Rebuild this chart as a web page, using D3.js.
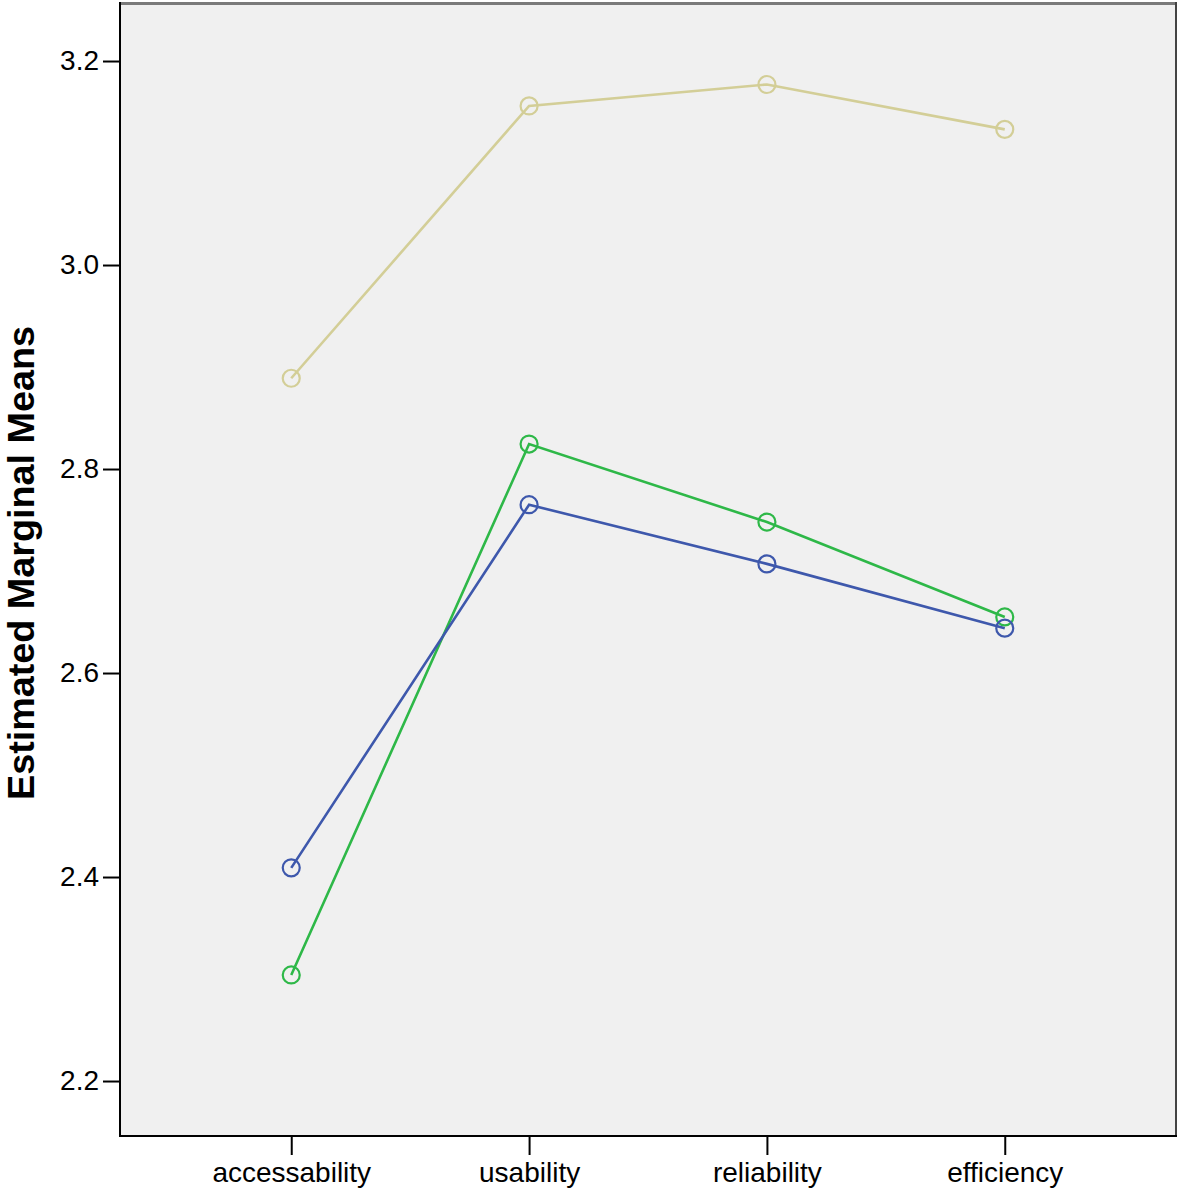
<!DOCTYPE html>
<html><head><meta charset="utf-8">
<script src="https://cdn.jsdelivr.net/npm/d3@7"></script>
<style>body{margin:0;background:#fff}svg{display:block}</style>
</head><body>
<script>
const categories = ["accessability", "usability", "reliability", "efficiency"];
const seriesTan = [2.889, 3.156, 3.177, 3.133];
const seriesGreen = [2.304, 2.8245, 2.748, 2.655];
const seriesBlue = [2.409, 2.765, 2.707, 2.644];
const yTicks = [2.2, 2.4, 2.6, 2.8, 3.0, 3.2];
const yTitle = "Estimated Marginal Means";

const series = [
  {name: "tan", values: seriesTan, color: "#D3CE97"},
  {name: "green", values: seriesGreen, color: "#2EB848"},
  {name: "blue", values: seriesBlue, color: "#3E58AC"}
];

const W = 1181, H = 1190;
const L = 120, R = 1176, T = 4, B = 1136;
const svg = d3.select("body").append("svg").attr("width", W).attr("height", H);

const x = d3.scalePoint().domain(categories).range([L, R]).padding(0.72);
const y = d3.scaleLinear().domain([2.1461, 3.2559]).range([B, T]);

svg.append("rect").attr("x", L).attr("y", T).attr("width", R - L).attr("height", B - T).attr("fill", "#F0F0F0");
svg.append("line").attr("x1", L).attr("x2", R + 1).attr("y1", T - 0.5).attr("y2", T - 0.5).attr("stroke", "#7a7a7a").attr("stroke-width", 3);
svg.append("line").attr("x1", R).attr("x2", R).attr("y1", T - 2).attr("y2", B).attr("stroke", "#444").attr("stroke-width", 2);

const font = "Liberation Sans, Arial, sans-serif";

const yAxis = svg.append("g").attr("transform", `translate(${L},0)`)
  .call(d3.axisLeft(y).tickValues(yTicks).tickFormat(d3.format(".1f")).tickSize(17).tickPadding(4));
yAxis.select(".domain").attr("stroke", "#000").attr("stroke-width", 2).attr("d", `M0,${T - 2}V${B}`);
yAxis.selectAll(".tick line").attr("stroke", "#000").attr("stroke-width", 2);
yAxis.selectAll(".tick text").attr("font-family", font).attr("font-size", 28).attr("fill", "#000");

const xAxis = svg.append("g").attr("transform", `translate(0,${B})`)
  .call(d3.axisBottom(x).tickSize(19).tickPadding(7));
xAxis.select(".domain").attr("stroke", "#000").attr("stroke-width", 2).attr("d", `M${L - 1},0H${R + 1}`);
xAxis.selectAll(".tick line").attr("stroke", "#000").attr("stroke-width", 2);
xAxis.selectAll(".tick text").attr("font-family", font).attr("font-size", 28).attr("fill", "#000");

svg.append("text")
  .attr("transform", `translate(34,${(T + B) / 2 - 7}) rotate(-90)`)
  .attr("text-anchor", "middle")
  .attr("font-family", font).attr("font-weight", "bold").attr("font-size", 36)
  .attr("textLength", 474).attr("lengthAdjust", "spacingAndGlyphs")
  .attr("fill", "#000")
  .text(yTitle);

const line = d3.line().x((d, i) => x(categories[i])).y(d => y(d));
const g = svg.append("g");
series.forEach(s => {
  g.append("path").attr("d", line(s.values)).attr("fill", "none")
    .attr("stroke", s.color).attr("stroke-width", 2.6);
  g.selectAll(null).data(s.values).enter().append("circle")
    .attr("cx", (d, i) => x(categories[i])).attr("cy", d => y(d)).attr("r", 8.5)
    .attr("fill", "none").attr("stroke", s.color).attr("stroke-width", 2.2);
});
</script>
</body></html>
